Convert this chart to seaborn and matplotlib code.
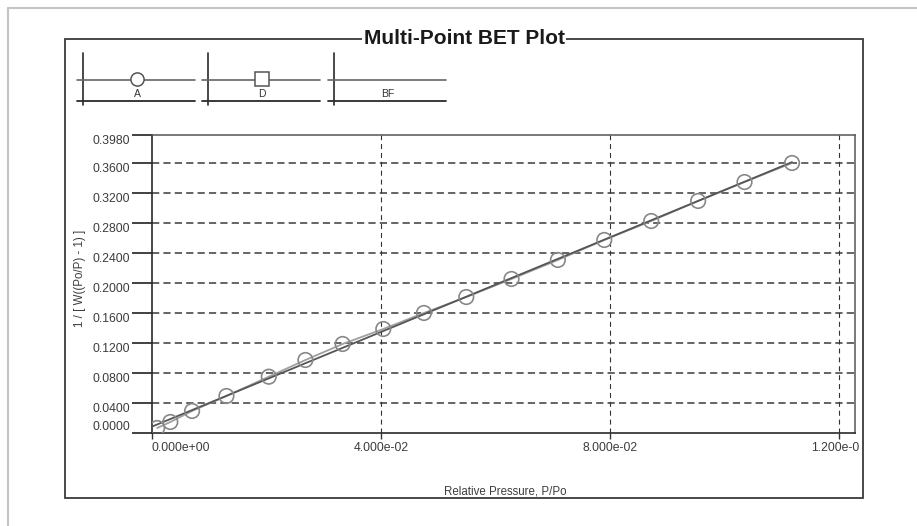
import numpy as np
import pandas as pd
import matplotlib
matplotlib.use('Agg')
import matplotlib.pyplot as plt
from matplotlib.lines import Line2D
from matplotlib.patches import Rectangle
import seaborn as sns

# ========== DATA ==========
rel_pressure = [0.0009, 0.0032, 0.0070, 0.0130, 0.0204, 0.0268, 0.0333, 0.0404,
                0.0475, 0.0549, 0.0628, 0.0709, 0.0790, 0.0872, 0.0954, 0.1035, 0.1118]
bet_value = [0.0067, 0.0147, 0.0294, 0.0494, 0.0752, 0.0975, 0.1189, 0.1389,
             0.1603, 0.1816, 0.2057, 0.2311, 0.2578, 0.2831, 0.3099, 0.3352, 0.3606]
x_ticks = [0.0, 0.04, 0.08, 0.12]
x_tick_labels = ['0.000e+00', '4.000e-02', '8.000e-02', '1.200e-01']
y_ticks = [0.0, 0.04, 0.08, 0.12, 0.16, 0.20, 0.24, 0.28, 0.32, 0.36, 0.398]
y_tick_labels = ['0.0000', '0.0400', '0.0800', '0.1200', '0.1600', '0.2000',
                 '0.2400', '0.2800', '0.3200', '0.3600', '0.3980']
legend_labels = ['A', 'D', 'BF']
legend_markers = ['o', 's', None]

df = pd.DataFrame({'x': rel_pressure, 'y': bet_value})

# best fit line (BF)
slope, intercept = np.polyfit(df['x'], df['y'], 1)
fit_df = pd.DataFrame({'x': [0.0, df['x'].max()]})
fit_df['y'] = intercept + slope * fit_df['x']

# ========== STYLE ==========
sns.set_style('white')
plt.rcParams['font.family'] = ['Liberation Sans', 'DejaVu Sans']
plt.rcParams['lines.scale_dashes'] = False

W, H = 917, 526
fig = plt.figure(figsize=(W / 100, H / 100), dpi=100)


def px(x, y):
    # pixel position (from top-left) -> figure fraction
    return x / W, 1 - y / H


# axes placed by pixel box: left 152, right 855, top 135, bottom 433
ax = fig.add_axes([152 / W, 1 - 433 / H, (855 - 152) / W, (433 - 135) / H])

# gridlines
for yv in y_ticks[1:-1]:
    ax.axhline(yv, color='#4a4a4a', lw=1.2, ls=(0, (5.2, 3.0)), zorder=1)
for xv in x_ticks[1:]:
    ax.axvline(xv, color='#333333', lw=0.8, ls=(0, (3.6, 2.8)), zorder=1)

# data line, best fit and points
sns.lineplot(data=df, x='x', y='y', sort=False, estimator=None, ax=ax,
             color='#a0a0a0', lw=1.3, zorder=3)
sns.lineplot(data=fit_df, x='x', y='y', sort=False, estimator=None, ax=ax,
             color='#555555', lw=1.3, zorder=4)
sns.scatterplot(data=df, x='x', y='y', ax=ax, marker='o', s=110,
                facecolor='none', edgecolor='#888888', linewidth=1.2, zorder=5)

ax.set_xlim(0, 0.1228)
ax.set_ylim(0, 0.398)

ax.set_xticks(x_ticks, x_tick_labels)
ax.set_yticks(y_ticks, y_tick_labels)
ax.tick_params(axis='y', left=True, direction='out', length=14.4, width=1.3,
               color='#333333', pad=1.5, labelsize=8.8, labelcolor='#3c3c3c')
ax.tick_params(axis='x', bottom=True, direction='out', length=4.3, width=1.0,
               color='#333333', pad=2.5, labelsize=8.8, labelcolor='#3c3c3c')

for lbl in ax.get_yticklabels():
    lbl.set_va('bottom' if lbl.get_text() == '0.0000' else 'top')
xlbls = ax.get_xticklabels()
xlbls[0].set_ha('left')

for side in ['left', 'bottom']:
    ax.spines[side].set_color('#2a2a2a')
    ax.spines[side].set_linewidth(1.2)
for side in ['top', 'right']:
    ax.spines[side].set_color('#555555')
    ax.spines[side].set_linewidth(1.1)

ax.set_xlabel('Relative Pressure, P/Po', fontsize=8.3, color='#3c3c3c', va='center')
ax.xaxis.set_label_coords((505 - 152) / 703, -(491 - 433) / 298)
ax.set_ylabel('1 / [ W((Po/P) - 1) ]', fontsize=8.3, color='#3c3c3c', va='center')
ax.yaxis.set_label_coords((80 - 152) / 703, (433 - 278) / 298)

# ========== PAGE DECORATION ==========
# page edge
fig.add_artist(Line2D([8 / W, 1], [1 - 8 / H] * 2, color='#c4c4c4', lw=1.5))
fig.add_artist(Line2D([8 / W] * 2, [0, 1 - 8 / H], color='#c4c4c4', lw=1.5))

# outer frame of the plot
fx0, fy0 = px(65, 498)
fx1, fy1 = px(863, 39)
frame = Rectangle((fx0, fy0), fx1 - fx0, fy1 - fy0, transform=fig.transFigure,
                  fill=False, edgecolor='#3a3a3a', lw=1.3)
fig.add_artist(frame)

tx, ty = px(464, 39)
fig.text(tx, ty, 'Multi-Point BET Plot', fontsize=15, fontweight='bold',
         color='#1a1a1a', ha='center', va='center',
         bbox=dict(facecolor='white', edgecolor='none', pad=1.0))

# clip the last x tick label at the frame edge, like the reference
cx1, _ = px(859, 0)
clip_rect = Rectangle((fx0, fy0), cx1 - fx0, fy1 - fy0, transform=fig.transFigure,
                      fill=False, visible=False)
fig.add_artist(clip_rect)
for lbl in xlbls:
    lbl.set_clip_path(clip_rect)

# legend cells
cell_left = [77, 202, 328]
cell_width = 118
for i, (lab, mk) in enumerate(zip(legend_labels, legend_markers)):
    x0 = cell_left[i]
    x1 = x0 + cell_width
    xm = (x0 + x1) / 2 + 1
    vx = x0 + 6
    a, b = px(vx, 53)
    c, d = px(vx, 105)
    fig.add_artist(Line2D([a, c], [b, d], color='#2a2a2a', lw=1.2))
    a, b = px(x0, 80)
    c, d = px(x1, 80)
    fig.add_artist(Line2D([a, c], [b, d], color='#666666', lw=1.2))
    a, b = px(x0, 101)
    c, d = px(x1, 101)
    fig.add_artist(Line2D([a, c], [b, d], color='#2a2a2a', lw=1.3))
    if mk is not None:
        a, b = px(xm, 79)
        fig.add_artist(Line2D([a], [b], marker=mk, markersize=9.5,
                              markerfacecolor='white', markeredgecolor='#555555',
                              markeredgewidth=1.1, ls='none'))
    a, b = px(xm, 94)
    fig.text(a, b, lab, fontsize=7.5, color='#333333', ha='center', va='center')

fig.savefig('out.png', dpi=100)
